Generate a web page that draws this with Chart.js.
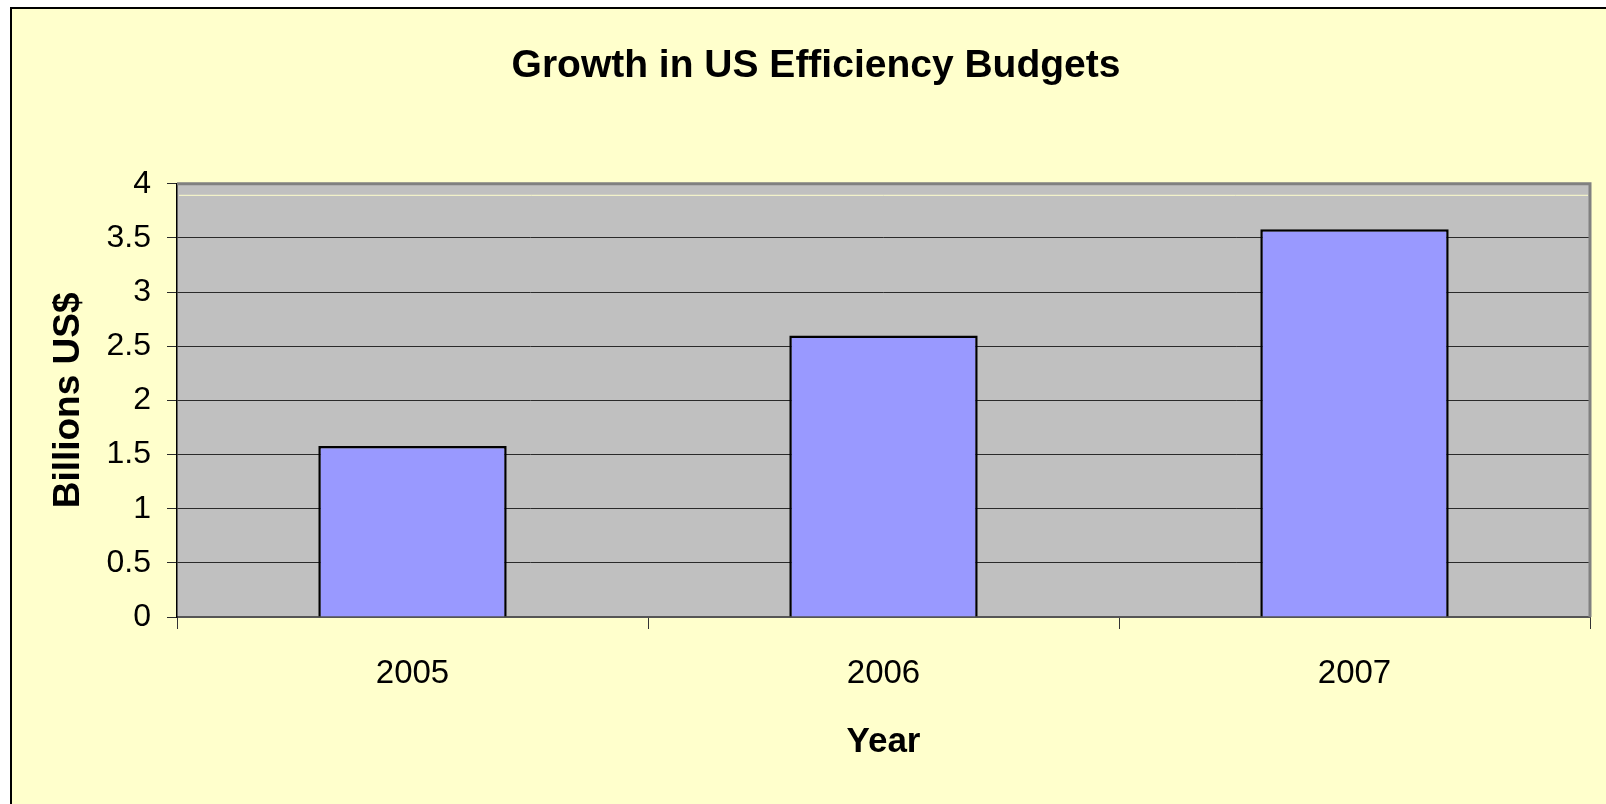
<!DOCTYPE html>
<html>
<head>
<meta charset="utf-8">
<title>Growth in US Efficiency Budgets</title>
<script src="https://cdn.jsdelivr.net/npm/chart.js@4.4.1/dist/chart.umd.min.js"></script>
<style>
  html, body { margin: 0; padding: 0; background: #fff; }
  canvas { display: block; }
</style>
</head>
<body>
<canvas id="budgetChart" width="1606" height="804"></canvas>
<script>
const years = ['2005', '2006', '2007'];
const budgets = [1.58, 2.6, 3.58];
const yTicks = [0, 0.5, 1, 1.5, 2, 2.5, 3, 3.5, 4];

const FONT = '"Liberation Sans", Arial, sans-serif';

// yellow chart sheet + grey plot area, Excel style
const backdrop = {
  id: 'backdrop',
  beforeDraw(chart) {
    const { ctx, width, height, chartArea: a } = chart;
    ctx.save();
    ctx.fillStyle = '#ffffff';
    ctx.fillRect(0, 0, width, height);
    ctx.fillStyle = '#FFFFCC';
    ctx.fillRect(11, 8, width - 11, height - 8);
    ctx.strokeStyle = '#000';
    ctx.lineWidth = 2;
    ctx.beginPath();
    ctx.moveTo(11, height);
    ctx.lineTo(11, 8);
    ctx.lineTo(width, 8);
    ctx.stroke();

    ctx.fillStyle = '#C0C0C0';
    ctx.fillRect(a.left, a.top, a.right - a.left, a.bottom - a.top);
    ctx.strokeStyle = '#FFFFCC';
    ctx.lineWidth = 1;
    ctx.beginPath();
    ctx.moveTo(a.left + 2, a.top + 11.5);
    ctx.lineTo(a.right - 2, a.top + 11.5);
    ctx.stroke();
    ctx.restore();
  },
  afterDatasetsDraw(chart) {
    const { ctx, chartArea: a } = chart;
    ctx.save();
    ctx.strokeStyle = '#808080';
    ctx.lineWidth = 3;
    ctx.beginPath();
    ctx.moveTo(a.left, a.top);
    ctx.lineTo(a.right, a.top);
    ctx.lineTo(a.right, a.bottom);
    ctx.stroke();
    ctx.restore();
  }
};

new Chart(document.getElementById('budgetChart'), {
  type: 'bar',
  data: {
    labels: years,
    datasets: [{
      data: budgets,
      backgroundColor: '#9999FF',
      borderColor: '#000000',
      borderWidth: 2.5,
      barPercentage: 0.4,
      categoryPercentage: 1.0,
    }],
  },
  options: {
    responsive: false,
    animation: false,
    layout: { padding: { left: 42, right: 16, top: 0, bottom: 0 } },
    plugins: {
      legend: { display: false },
      tooltip: { enabled: false },
      title: {
        display: true,
        text: 'Growth in US Efficiency Budgets',
        color: '#000',
        font: { family: FONT, size: 39, weight: 'bold' },
        padding: { top: 43, bottom: 94 },
      },
    },
    scales: {
      x: {
        grid: {
          display: true,
          offset: true,
          drawOnChartArea: false,
          drawTicks: true,
          tickLength: 12,
          color: '#333',
          lineWidth: 1,
        },
        border: { display: true, color: '#555', width: 2 },
        ticks: {
          color: '#000',
          padding: 25,
          font: { family: FONT, size: 33 },
        },
        title: {
          display: true,
          text: 'Year',
          color: '#000',
          font: { family: FONT, size: 35, weight: 'bold' },
          padding: { top: 0, bottom: 41 },
        },
        afterFit(scale) { scale.height = 187; },
      },
      y: {
        min: 0,
        max: 4,
        afterBuildTicks(scale) { scale.ticks = yTicks.map(v => ({ value: v })); },
        grid: {
          color: '#2a2a2a',
          lineWidth: 1,
          tickLength: 10,
        },
        border: { display: true, color: '#000', width: 1.5 },
        ticks: {
          color: '#000',
          padding: 16,
          font: { family: FONT, size: 32 },
          callback: v => String(v),
        },
        title: {
          display: true,
          text: 'Billions US$',
          color: '#000',
          font: { family: FONT, size: 37, weight: 'bold' },
          padding: { top: 5, bottom: 0 },
        },
        afterFit(scale) { scale.width = 135; },
      },
    },
  },
  plugins: [backdrop],
});
</script>
</body>
</html>
